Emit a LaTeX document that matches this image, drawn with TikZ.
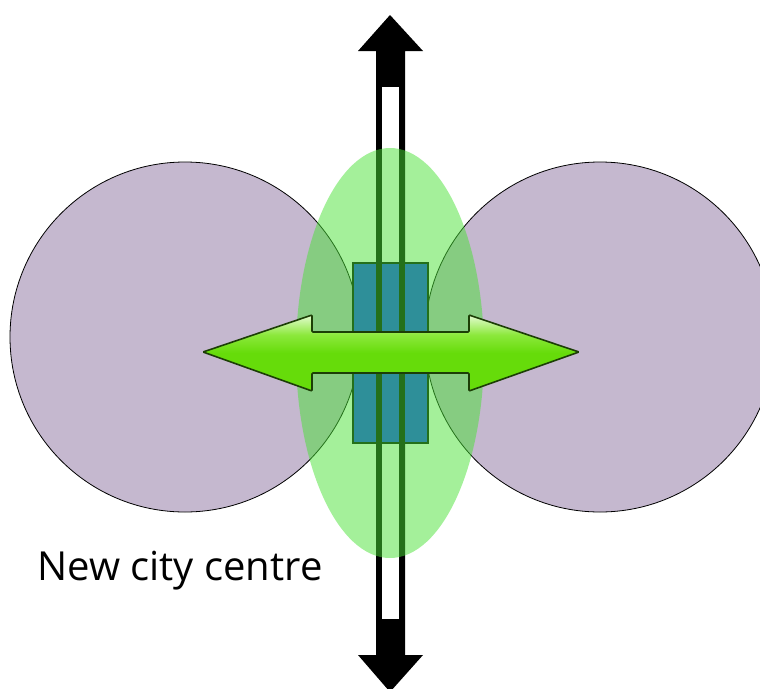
\documentclass[tikz,border=0pt]{standalone}
\usepackage{fontspec}
\setmainfont{Open Sans}
\usetikzlibrary{positioning,calc}

\definecolor{cityfill}{RGB}{197,184,207}
\definecolor{zonegreen}{RGB}{73,225,53}
\definecolor{coreblue}{RGB}{19,61,255}
\definecolor{limemain}{RGB}{102,220,10}
\definecolor{limemid}{RGB}{140,232,60}
\definecolor{limehigh}{RGB}{228,252,210}
\definecolor{limeedge}{RGB}{28,62,6}
\pgfdeclareverticalshading{limeshade}{100bp}{color(0bp)=(limemain); color(50bp)=(limemain); color(62bp)=(limemid); color(75bp)=(limehigh); color(100bp)=(limehigh)}

\begin{document}
\begin{tikzpicture}[x=1pt, y=1pt, city/.style = {fill=cityfill, draw=black, line width=0.8pt}, zone/.style = {fill=zonegreen, fill opacity=0.5}, core/.style = {fill=coreblue, draw=black, line width=1.5pt}, link/.style = {shading=limeshade, draw=limeedge, line width=1.6pt, rounded corners=1pt}]

\useasboundingbox (0,0) rectangle (760,-688);
\clip (0,0) rectangle (760,-688);

% the two old towns
\draw[city] (185,-337) circle (175);
\draw[city] (600,-337) circle (175);

% north-south road
\fill (390,-15) -- (423,-51) -- (405,-51) -- (405,-655) -- (423,-655) -- (390,-692) -- (358,-655) -- (376,-655) -- (376,-51) -- (358,-51) -- cycle;
\fill[white] (382,-87) rectangle (399,-619);

% centre block, with the road kerbs over it
\draw[core] (353,-263) rectangle (428,-443);
\fill (376,-263) rectangle (382,-443);
\fill (399,-263) rectangle (405,-443);

% the new centre zone
\fill[zone] (390,-353) ellipse (94 and 205);

% link between the towns
\draw[link] (203,-352) -- (312,-315) -- (312,-332) -- (469,-332) -- (469,-315) -- (579,-352) -- (469,-391) -- (469,-373) -- (312,-373) -- (312,-391) -- cycle;

\node[anchor=base west, inner sep=0pt, font=\fontsize{40}{48}\selectfont] (label) at (37,-580) {New city centre};
\end{tikzpicture}
\end{document}
